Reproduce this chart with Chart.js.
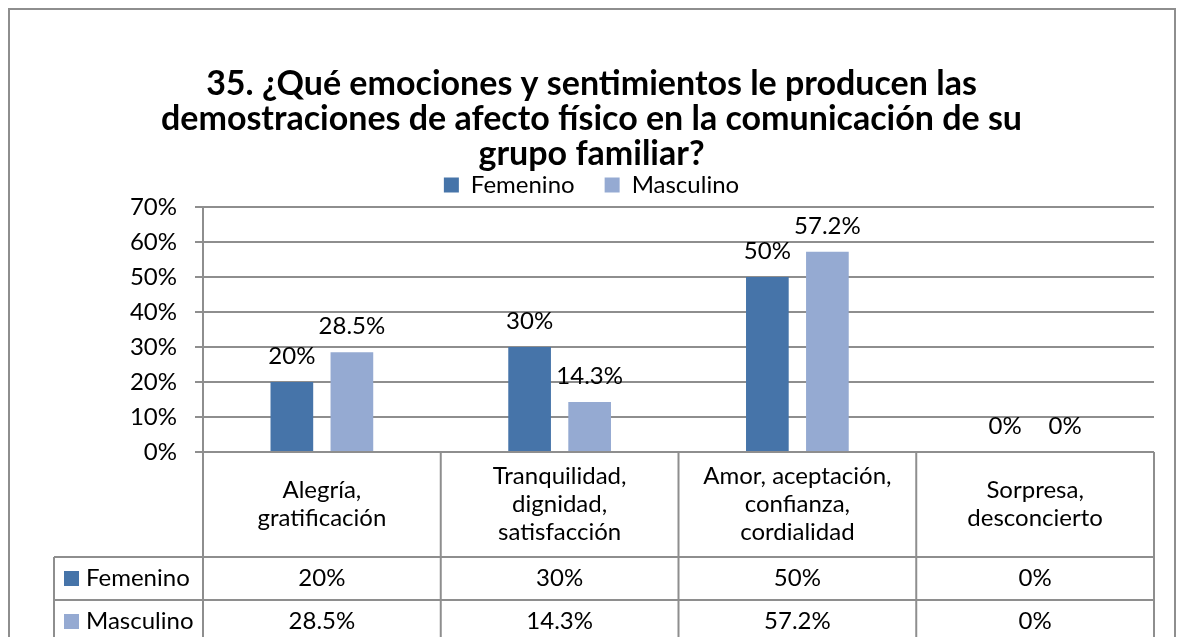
<!DOCTYPE html>
<html><head><meta charset="utf-8">
<script src="https://cdn.jsdelivr.net/npm/chart.js@4.4.0/dist/chart.umd.min.js"></script>
<style>html,body{margin:0;padding:0;background:#fff;overflow:hidden}#wrap{width:1183px;height:637px}</style>
</head><body><div id="wrap"><canvas id="c" width="1183" height="637"></canvas></div>
<script>
const titleLines = ['35. ¿Qué emociones y sentimientos le producen las', 'demostraciones de afecto físico en la comunicación de su', 'grupo familiar?'];
const categories = [['Alegría,', 'gratificación'], ['Tranquilidad,', 'dignidad,', 'satisfacción'], ['Amor, aceptación,', 'confianza,', 'cordialidad'], ['Sorpresa,', 'desconcierto']];
const seriesNames = ['Femenino', 'Masculino'];
const femenino = [20, 30, 50, 0];
const masculino = [28.5, 14.3, 57.2, 0];
const yMin = 0, yMax = 70, yStep = 10;
const seriesColors = ['#4674A9', '#95AAD2'];

const FONT = 'Lato';
const FS = 24;
const GRID = '#8e8e8e';
const fmt = v => v + '%';

const tablePlugin = {
  id: 'dataTable',
  afterDraw(chart) {
    const ctx = chart.ctx;
    const {left, right, bottom} = chart.chartArea;
    const xs = chart.scales.x;
    const n = categories.length;
    const half = (xs.getPixelForValue(1) - xs.getPixelForValue(0)) / 2;
    const bounds = [];
    for (let i = 0; i < n; i++) bounds.push(xs.getPixelForValue(i) - half);
    bounds.push(xs.getPixelForValue(n - 1) + half);
    const headL = 54, catH = 105, rowH = 43;
    const r1 = bottom + catH, r2 = r1 + rowH, r3 = r2 + rowH;
    ctx.save();
    ctx.strokeStyle = GRID; ctx.lineWidth = 2;
    ctx.beginPath();
    ctx.moveTo(left, bottom); ctx.lineTo(right, bottom);
    ctx.moveTo(headL, r1); ctx.lineTo(right, r1);
    ctx.moveTo(headL, r2); ctx.lineTo(right, r2);
    ctx.moveTo(headL, r1); ctx.lineTo(headL, r3 + 5);
    bounds.forEach(b => { ctx.moveTo(b, bottom); ctx.lineTo(b, r3 + 5); });
    ctx.stroke();
    ctx.fillStyle = '#000';
    ctx.font = FS + 'px ' + FONT;
    ctx.textAlign = 'center'; ctx.textBaseline = 'middle';
    const lh = 28;
    categories.forEach((lines, i) => {
      const cx = xs.getPixelForValue(i);
      const cy = bottom + catH / 2;
      const y0 = cy - (lines.length - 1) * lh / 2;
      lines.forEach((t, k) => ctx.fillText(t, cx, y0 + k * lh));
    });
    const rows = [femenino, masculino];
    rows.forEach((vals, r) => {
      const cy = r1 + rowH * r + rowH / 2;
      vals.forEach((v, i) => ctx.fillText(fmt(v), xs.getPixelForValue(i), cy));
      ctx.fillStyle = seriesColors[r];
      ctx.fillRect(64, cy - 7.5, 15, 15);
      ctx.fillStyle = '#000';
      ctx.textAlign = 'left';
      ctx.fillText(seriesNames[r], 86, cy);
      ctx.textAlign = 'center';
    });
    // outer frame
    ctx.beginPath();
    ctx.moveTo(9, 700); ctx.lineTo(9, 9); ctx.lineTo(1175, 9); ctx.lineTo(1175, 700);
    ctx.stroke();
    ctx.restore();
  }
};

const labelPlugin = {
  id: 'barLabels',
  afterDatasetsDraw(chart) {
    const ctx = chart.ctx;
    ctx.save();
    ctx.font = FS + 'px ' + FONT; ctx.fillStyle = '#000';
    ctx.textAlign = 'center'; ctx.textBaseline = 'middle';
    chart.data.datasets.forEach((ds, d) => {
      chart.getDatasetMeta(d).data.forEach((el, i) => {
        ctx.fillText(fmt(ds.data[i]), el.x, el.y - 26);
      });
    });
    ctx.restore();
  }
};

new Chart(document.getElementById('c'), {
  type: 'bar',
  data: {
    labels: categories,
    datasets: [
      {label: seriesNames[0], data: femenino, backgroundColor: seriesColors[0]},
      {label: seriesNames[1], data: masculino, backgroundColor: seriesColors[1]}
    ]
  },
  options: {
    responsive: false, animation: false, devicePixelRatio: 1,
    categoryPercentage: 0.505, barPercentage: 0.711,
    layout: {padding: {top: 0, left: 29, right: 29, bottom: 185}},
    plugins: {
      title: {display: true, text: titleLines, color: '#000',
        font: {family: FONT, size: 34, weight: 'bold', lineHeight: 35 / 34},
        padding: {top: 67, bottom: -29}},
      legend: {display: true, position: 'top',
        labels: {font: {family: FONT, size: FS}, color: '#000', boxWidth: 15, boxHeight: 15, padding: 30}},
      tooltip: {enabled: false}
    },
    scales: {
      x: {display: false},
      y: {min: yMin, max: yMax,
        ticks: {stepSize: yStep, callback: v => fmt(v), color: '#000', font: {family: FONT, size: FS}, padding: 18},
        grid: {color: GRID, lineWidth: 2, tickLength: 8, tickColor: GRID},
        border: {color: GRID, width: 2},
        afterFit: s => { s.width = 174; }
      }
    }
  },
  plugins: [labelPlugin, tablePlugin]
});
</script></body></html>
